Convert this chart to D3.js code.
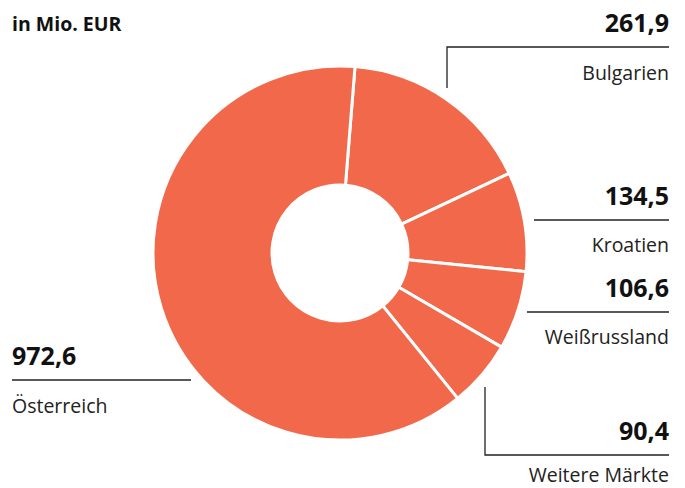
<!DOCTYPE html>
<html>
<head>
<meta charset="utf-8">
<script src="https://cdn.jsdelivr.net/npm/d3@7"></script>
<style>
    body { margin: 0; background: #fff; }
    svg { display: block; font-family: "Open Sans", "Noto Sans", sans-serif; }
    .value { font-weight: 700; font-size: 25px; fill: #111; }
    .label { font-size: 19.5px; fill: #222; }
    .unit { font-weight: 700; font-size: 19.5px; fill: #111; }
    .leader { stroke: #222; stroke-width: 1.3px; fill: none; }
</style>
</head>
<body>
<svg id="chart" width="685" height="488"></svg>
<script>
    // values in Mio. EUR, clockwise from the top
    const categories = ["Bulgarien", "Kroatien", "Weißrussland", "Weitere Märkte", "Österreich"];
    const values = [261.9, 134.5, 106.6, 90.4, 972.6];
    const valueLabels = ["261,9", "134,5", "106,6", "90,4", "972,6"];

    // label placement: rule y, rule ends, optional leader tick, name offset
    const labelLayout = {
        "Bulgarien":      {y: 47,  x1: 447, x2: 669, anchor: "end",   tick: 88, dy: 33},
        "Kroatien":       {y: 220, x1: 534, x2: 669, anchor: "end",   dy: 32},
        "Weißrussland":   {y: 312, x1: 527, x2: 669, anchor: "end",   dy: 32},
        "Weitere Märkte": {y: 455, x1: 485, x2: 669, anchor: "end",   tick: 387, dy: 27},
        "Österreich":     {y: 380, x1: 12,  x2: 191, anchor: "start", dy: 33}
    };

    const svg = d3.select("#chart");
    const cx = 340, cy = 253;
    const outerR = 187, innerR = 68;
    const offset = 4.6 * Math.PI / 180;

    const pie = d3.pie()
        .sort(null)
        .value(d => d.value)
        .startAngle(offset)
        .endAngle(offset + 2 * Math.PI);

    const arc = d3.arc()
        .innerRadius(innerR)
        .outerRadius(outerR);

    const data = categories.map((c, i) => ({name: c, value: values[i], text: valueLabels[i]}));

    svg.append("g")
        .attr("transform", `translate(${cx},${cy})`)
        .selectAll("path")
        .data(pie(data))
        .join("path")
        .attr("d", arc)
        .attr("fill", "#f2684a")
        .attr("stroke", "#fff")
        .attr("stroke-width", 3)
        .attr("stroke-linejoin", "round");

    svg.append("text")
        .attr("class", "unit")
        .attr("x", 12)
        .attr("y", 31)
        .text("in Mio. EUR");

    const labels = svg.append("g")
        .selectAll("g")
        .data(data)
        .join("g");

    const textX = d => {
        const l = labelLayout[d.name];
        return l.anchor === "end" ? l.x2 : l.x1;
    };

    labels.append("path")
        .attr("class", "leader")
        .attr("d", function (d) {
            const l = labelLayout[d.name];
            let p = `M${l.x2},${l.y}H${l.x1}`;
            if (l.tick) p += `V${l.tick}`;
            return p;
        });

    labels.append("text")
        .attr("class", "value")
        .attr("x", textX)
        .attr("y", d => labelLayout[d.name].y - 15)
        .attr("text-anchor", d => labelLayout[d.name].anchor)
        .text(d => d.text);

    labels.append("text")
        .attr("class", "label")
        .attr("x", textX)
        .attr("y", d => labelLayout[d.name].y + labelLayout[d.name].dy)
        .attr("text-anchor", d => labelLayout[d.name].anchor)
        .text(d => d.name);
</script>
</body>
</html>
